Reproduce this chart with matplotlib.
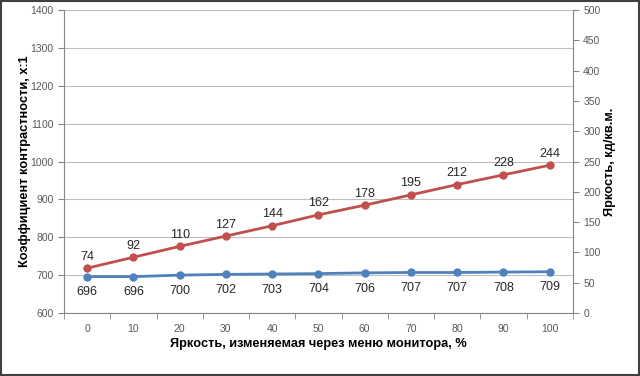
import matplotlib
matplotlib.use("Agg")
import matplotlib.pyplot as plt
from matplotlib.patches import Rectangle

categories = ["0", "10", "20", "30", "40", "50", "60", "70", "80", "90", "100"]
contrast = [696, 696, 700, 702, 703, 704, 706, 707, 707, 708, 709]
brightness = [74, 92, 110, 127, 144, 162, 178, 195, 212, 228, 244]

plt.rcParams['font.family'] = ['Liberation Sans', 'DejaVu Sans']

fig = plt.figure(figsize=(6.4, 3.76), dpi=100)
ax = fig.add_axes([0.1, 0.1676, 0.795, 0.8054])
ax2 = ax.twinx()

x = list(range(len(categories)))
blue = '#4f81bd'
red = '#c0504d'
tickc = '#595959'
gridc = '#bfbfbf'

ax.plot(x, contrast, color=blue, lw=2, marker='o', ms=5, zorder=3)
ax2.plot(x, brightness, color=red, lw=2, marker='o', ms=5, zorder=3)

ax.set_ylim(600, 1400)
ax.set_yticks(range(600, 1401, 100))
ax2.set_ylim(0, 500)
ax2.set_yticks(range(0, 501, 50))
ax.set_xlim(-0.5, len(categories) - 0.5)
ax.set_xticks(x)
ax.set_xticklabels(categories)
ax.set_xticks([i - 0.5 for i in range(len(categories) + 1)], minor=True)

ax.grid(axis='y', color=gridc, lw=0.8)
ax.set_axisbelow(True)

for a in (ax, ax2):
    for s in a.spines.values():
        s.set_color('#868686')
    a.spines['top'].set_visible(False)
ax.spines['right'].set_visible(False)
ax2.spines['left'].set_visible(False)
ax2.spines['bottom'].set_visible(False)

ax.tick_params(axis='x', which='major', length=0, labelsize=7.5, labelcolor=tickc, pad=8)
ax.tick_params(axis='x', which='minor', length=4, color='#868686')
ax.tick_params(axis='y', length=4, color='#868686', labelsize=7.5, labelcolor=tickc)
ax2.tick_params(axis='y', length=4, color='#868686', labelsize=7.5, labelcolor=tickc)

ax.set_xlabel("Яркость, изменяемая через меню монитора, %", fontsize=9.2, fontweight='bold')
ax.set_ylabel("Коэффициент контрастности, x:1", fontsize=9.2, fontweight='bold')
ax2.set_ylabel("Яркость, кд/кв.м.", fontsize=9.2, fontweight='bold')
ax.xaxis.set_label_coords(0.5, -0.102)
ax.yaxis.set_label_coords(-0.077, 0.5)
ax2.yaxis.set_label_coords(1.073, 0.5)
ax.xaxis.label.set_va('center')
ax.yaxis.label.set_va('center')
ax2.yaxis.label.set_va('center')

for i, v in enumerate(contrast):
    ax.annotate(str(v), (i, v), xytext=(0, -7), textcoords='offset points',
                ha='center', va='top', fontsize=9, color='#262626', zorder=4)
for i, v in enumerate(brightness):
    ax2.annotate(str(v), (i, v), xytext=(0, 4), textcoords='offset points',
                 ha='center', va='bottom', fontsize=9, color='#262626', zorder=4)

fig.patches.append(Rectangle((0.002, 0.003), 0.996, 0.994, transform=fig.transFigure,
                             fill=False, edgecolor='#404040', lw=1.5))

fig.savefig("out.png", dpi=100)
